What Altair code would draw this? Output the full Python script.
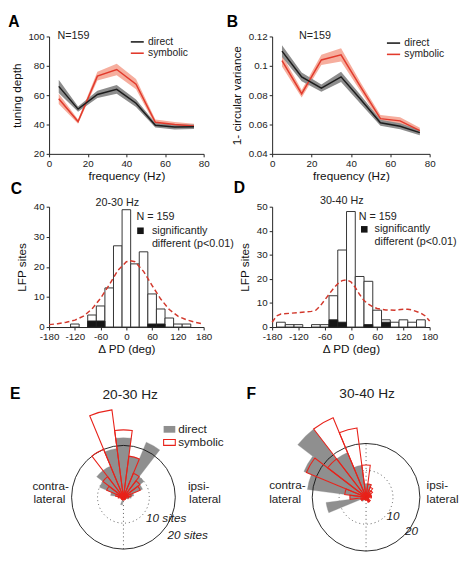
import altair as alt
import pandas as pd

FONT = "Liberation Sans"
INK = "#222222"
BLACK = "#1c1c1c"
RED = "#e23a2c"
GRAY_BAND = "#8d8d8d"
RED_BAND = "#f6ae9e"
GRAY_ROSE = "#8f8f8f"
HIST_RED = "#d2382c"

# ---------------- A / B : tuning vs frequency ----------------
freq = [5, 15, 25, 35, 45, 55, 65, 75]
td_direct = [66.0, 50.5, 60.5, 64.0, 54.5, 39.5, 38.3, 38.5]
td_direct_se = [4.5, 1.8, 2.5, 3.0, 2.5, 1.5, 1.7, 1.5]
td_symb = [57.5, 42.0, 73.0, 77.5, 67.5, 41.5, 40.0, 39.0]
td_symb_se = [3.5, 1.5, 3.0, 4.0, 3.5, 2.0, 1.8, 1.5]

cv_direct = [0.110, 0.0925, 0.0848, 0.0925, 0.0770, 0.0612, 0.0588, 0.0545]
cv_direct_se = [0.004, 0.003, 0.0025, 0.0035, 0.003, 0.002, 0.002, 0.0018]
cv_symb = [0.1035, 0.0810, 0.1040, 0.1075, 0.0855, 0.0640, 0.0625, 0.0558]
cv_symb_se = [0.004, 0.0025, 0.0035, 0.0045, 0.003, 0.0025, 0.0025, 0.002]

# ---------------- C / D : delta PD histograms ----------------
bins_C = [-120, -80, -60, -40, -20, 0, 20, 40, 60, 80, 100, 120, 140]
count_C = [1, 4, 7, 13, 27, 39, 21, 25, 11, 6, 3, 1, 1]
sig_C = [0, 2, 2, 0, 0, 0, 0, 0, 1, 1, 0, 0, 0]
curve_C_x = [-180, -160, -140, -120, -100, -80, -60, -40, -20, 0, 10, 20, 40, 60, 80, 100, 120, 140, 160, 180]
curve_C_y = [0.8, 1.1, 1.6, 2.3, 3.6, 6.0, 9.6, 14.0, 18.8, 21.7, 22.0, 21.7, 18.5, 13.8, 9.3, 5.8, 3.6, 2.4, 1.6, 1.0]

bins_D = [-160, -140, -120, -80, -60, -40, -20, 0, 20, 40, 60, 80, 100, 120, 140, 160]
count_D = [2, 1, 1, 1, 1, 13, 32, 48, 21, 19, 7, 3, 2, 3, 2, 3]
sig_D = [0, 0, 0, 0, 0, 3, 2, 0, 0, 1, 0, 2, 0, 0, 0, 0]
curve_D_x = [-180, -170, -160, -140, -120, -100, -90, -80, -70, -60, -50, -40, -30, -20, -10, 0, 10, 20, 30, 40, 50, 60, 80, 100, 120, 130, 140, 160, 170, 180]
curve_D_y = [2.0, 4.6, 5.4, 5.7, 6.0, 6.3, 6.5, 7.0, 8.8, 11.2, 13.6, 16.0, 18.0, 19.3, 19.6, 18.8, 16.5, 13.5, 11.0, 9.5, 8.4, 7.7, 7.1, 7.0, 7.4, 7.4, 7.1, 5.8, 4.6, 2.5]

# ---------------- E / F : rose plots (deg clockwise from top) ----------------
rose_angles = [-165, -150, -135, -120, -105, -90, -75, -60, -45, -30, -15, 0,
               15, 30, 45, 60, 75, 90, 105, 120, 135, 150, 165, 180]
E_direct = [3, 1, 0, 1, 0, 2, 5, 10, 13, 13, 19, 23, 16, 23, 10, 8, 4, 3, 2, 1, 0, 1, 0, 1]
E_symb = [1, 1, 1, 1, 1, 2, 3, 7, 10, 20, 34, 26, 16, 10, 8, 7, 3, 2, 1, 1, 1, 1, 1, 1]
F_direct = [1, 1, 2, 2, 15, 6, 22, 25, 32, 18, 12, 5, 5, 3, 2, 2, 2, 1, 0, 1, 0, 1, 0, 1]
F_symb = [1, 1, 1, 2, 2, 6, 8, 24, 18, 32, 26, 12, 5, 4, 3, 2, 2, 2, 1, 1, 2, 2, 1, 1]


def letter_title(letter, dx, dy):
    return alt.TitleParams(text=letter, anchor="start", frame="bounds", fontSize=16,
                           fontWeight="bold", font=FONT, color="#000000", offset=0,
                           dx=dx, dy=dy)


def line_panel(letter, direct, dse, symb, sse, ydom, yvals, yfmt, ytitle,
               leg_x0, leg_x1, leg_tx, leg_y, n_x, n_y, width, height, tdx, tdy):
    recs = []
    for cond, vals, ses in (("direct", direct, dse), ("symbolic", symb, sse)):
        for f, v, e in zip(freq, vals, ses):
            recs.append(dict(f=f, v=v, lo=v - e, hi=v + e, cond=cond))
    df = pd.DataFrame(recs)
    xs = alt.Scale(domain=[0, 80], nice=False, zero=False)
    ys = alt.Scale(domain=ydom, nice=False, zero=False)
    xax = alt.Axis(values=[0, 20, 40, 60, 80], title="frequency (Hz)", labelFlush=False)
    yax = alt.Axis(values=yvals, format=yfmt, title=ytitle)

    def X(f):
        return alt.X(f, type="quantitative", scale=xs, axis=xax)

    def Y(f):
        return alt.Y(f, type="quantitative", scale=ys, axis=yax)

    base = alt.Chart(df)
    band_s = base.transform_filter("datum.cond == 'symbolic'").mark_area(color=RED_BAND).encode(
        x=X("f"), y=Y("lo"), y2=alt.Y2("hi"))
    band_d = base.transform_filter("datum.cond == 'direct'").mark_area(color=GRAY_BAND).encode(
        x=X("f"), y=Y("lo"), y2=alt.Y2("hi"))
    line_s = base.transform_filter("datum.cond == 'symbolic'").mark_line(color=RED, strokeWidth=1.5).encode(
        x=X("f"), y=Y("v"))
    line_d = base.transform_filter("datum.cond == 'direct'").mark_line(color=BLACK, strokeWidth=1.5).encode(
        x=X("f"), y=Y("v"))

    leg = pd.DataFrame(dict(x0=[leg_x0] * 2, x1=[leg_x1] * 2, tx=[leg_tx] * 2, y=leg_y,
                            cond=["direct", "symbolic"]))
    leg_rule = alt.Chart(leg).mark_rule(strokeWidth=1.6).encode(
        x=X("x0"), x2=alt.X2("x1"), y=Y("y"),
        color=alt.Color("cond:N", scale=alt.Scale(domain=["direct", "symbolic"], range=[BLACK, RED]),
                        legend=None))
    leg_text = alt.Chart(leg).mark_text(align="left", baseline="middle", fontSize=10.5, color=INK).encode(
        x=X("tx"), y=Y("y"), text="cond:N")
    ntxt = alt.Chart(pd.DataFrame({"x": [n_x], "y": [n_y], "t": ["N=159"]})).mark_text(
        align="left", baseline="middle", fontSize=11, color=INK).encode(x=X("x"), y=Y("y"), text="t:N")
    return alt.layer(band_s, band_d, line_s, line_d, leg_rule, leg_text, ntxt).properties(
        width=width, height=height, title=letter_title(letter, tdx, tdy))


def hist_panel(letter, bins, counts, sig, cx, cy, ymax, label, lab_pos, n_pos, sq_pos, sig_pos,
               diff_pos, width, height, tdx, tdy):
    df = pd.DataFrame({"c": bins, "n": counts, "s": sig})
    df["x0"] = df["c"] - 10
    df["x1"] = df["c"] + 10
    df["z"] = 0
    xs = alt.Scale(domain=[-180, 180], nice=False, zero=False)
    ys = alt.Scale(domain=[0, ymax], nice=False)
    xax = alt.Axis(values=list(range(-180, 181, 60)), title="\u0394 PD (deg)",
                   labelExpr="datum.value + ''", labelOverlap=False, labelFlush=False)
    yax = alt.Axis(values=list(range(0, ymax + 1, 10)), title="LFP sites")

    def X(f):
        return alt.X(f, type="quantitative", scale=xs, axis=xax)

    def Y(f):
        return alt.Y(f, type="quantitative", scale=ys, axis=yax)

    bars = alt.Chart(df).mark_bar(fill="white", stroke="#333333", strokeWidth=1).encode(
        x=X("x0"), x2=alt.X2("x1"), y=Y("n"), y2=alt.Y2("z"))
    sigbars = alt.Chart(df[df["s"] > 0]).mark_bar(fill="#151515", stroke="#222222", strokeWidth=1).encode(
        x=X("x0"), x2=alt.X2("x1"), y=Y("s"), y2=alt.Y2("z"))
    curve = alt.Chart(pd.DataFrame({"x": cx, "y": cy})).mark_line(
        color=HIST_RED, strokeDash=[5, 3], strokeWidth=1.5).encode(x=X("x"), y=Y("y"))
    texts = pd.DataFrame({
        "x": [n_pos[0], sig_pos[0], diff_pos[0]],
        "y": [n_pos[1], sig_pos[1], diff_pos[1]],
        "t": ["N = 159", "significantly", "different (p<0.01)"]})
    ttxt = alt.Chart(texts).mark_text(align="left", baseline="middle", fontSize=11, color=INK).encode(
        x=X("x"), y=Y("y"), text="t:N")
    sq = alt.Chart(pd.DataFrame({"x": [sq_pos[0]], "y": [sq_pos[1]]})).mark_point(
        shape="square", filled=True, size=45, color="#151515", opacity=1).encode(x=X("x"), y=Y("y"))
    lab = alt.Chart(pd.DataFrame({"x": [lab_pos[0]], "y": [lab_pos[1]], "t": [label]})).mark_text(
        align="center", baseline="middle", fontSize=11, color=INK).encode(x=X("x"), y=Y("y"), text="t:N")
    return alt.layer(bars, sigbars, curve, ttxt, sq, lab).properties(
        width=width, height=height, title=letter_title(letter, tdx, tdy))


def rose_panel(letter, title, direct, symb, ppx, xdom, ydom, width, height,
               side_texts, scale_texts, title_pos, letter_pos, legend):
    xs = alt.Scale(domain=xdom, nice=False, zero=False)
    ys = alt.Scale(domain=ydom, nice=False, zero=False)
    ts = alt.Scale(domain=[0, 360], range=[0, 6.283185307179586])
    rs = alt.Scale(type="linear", domain=[0, 20], range=[0, 20 * ppx], zero=True)

    def X(f):
        return alt.X(f, type="quantitative", scale=xs, axis=None)

    def Y(f):
        return alt.Y(f, type="quantitative", scale=ys, axis=None)

    def T(f):
        return alt.Theta(f, type="quantitative", scale=ts, stack=False)

    def R(f):
        return alt.Radius(f, type="quantitative", scale=rs)

    def wedges(counts):
        w = pd.DataFrame({"a": rose_angles, "n": counts})
        w = w[w["n"] > 0].copy()
        w["t0"] = w["a"] - 7.5
        w["t1"] = w["a"] + 7.5
        w["cx"] = 0.0
        w["cy"] = 0.0
        return w

    rings = pd.DataFrame({"cx": [0.0, 0.0], "cy": [0.0, 0.0], "t0": [0, 0], "t1": [360, 360],
                          "r": [20, 10], "kind": ["outer", "inner"]})
    inner = alt.Chart(rings).transform_filter("datum.kind == 'inner'").mark_arc(
        fillOpacity=0, stroke="#555555", strokeWidth=1, strokeDash=[1, 3]).encode(
        x=X("cx"), y=Y("cy"), theta=T("t0"), theta2=alt.Theta2("t1"), radius=R("r"))
    outer = alt.Chart(rings).transform_filter("datum.kind == 'outer'").mark_arc(
        fillOpacity=0, stroke="#111111", strokeWidth=0.9).encode(
        x=X("cx"), y=Y("cy"), theta=T("t0"), theta2=alt.Theta2("t1"), radius=R("r"))
    spoke = alt.Chart(pd.DataFrame({"cx": [0.0], "y0": [-20.0], "y1": [20.0]})).mark_rule(
        stroke="#555555", strokeDash=[1, 3], strokeWidth=1).encode(x=X("cx"), y=Y("y0"), y2=alt.Y2("y1"))
    gray = alt.Chart(wedges(direct)).mark_arc(color=GRAY_ROSE, stroke=GRAY_ROSE, strokeWidth=0.3).encode(
        x=X("cx"), y=Y("cy"), theta=T("t0"), theta2=alt.Theta2("t1"), radius=R("n"))
    red = alt.Chart(wedges(symb)).mark_arc(fillOpacity=0, stroke="#e8221a", strokeWidth=1.1).encode(
        x=X("cx"), y=Y("cy"), theta=T("t0"), theta2=alt.Theta2("t1"), radius=R("n"))

    side = alt.Chart(pd.DataFrame(side_texts, columns=["x", "y", "t"])).mark_text(
        align="left", baseline="middle", fontSize=12, color=INK).encode(x=X("x"), y=Y("y"), text="t:N")
    scl = alt.Chart(pd.DataFrame(scale_texts, columns=["x", "y", "t"])).mark_text(
        align="left", baseline="middle", fontSize=12, fontStyle="italic", color=INK).encode(
        x=X("x"), y=Y("y"), text="t:N")
    ttl = alt.Chart(pd.DataFrame({"x": [title_pos[0]], "y": [title_pos[1]], "t": [title]})).mark_text(
        align="center", baseline="middle", fontSize=14, color=INK).encode(x=X("x"), y=Y("y"), text="t:N")
    let = alt.Chart(pd.DataFrame({"x": [letter_pos[0]], "y": [letter_pos[1]], "t": [letter]})).mark_text(
        align="left", baseline="middle", fontSize=16, fontWeight="bold", color="#000000").encode(
        x=X("x"), y=Y("y"), text="t:N")
    layers = [inner, spoke, gray, outer, red, side, scl, ttl, let]
    if legend is not None:
        lx0, lx1, gy0, gy1, ry0, ry1, tx, gty, rty = legend
        lg = pd.DataFrame({"x0": [lx0], "x1": [lx1], "y0": [gy0], "y1": [gy1]})
        lr = pd.DataFrame({"x0": [lx0], "x1": [lx1], "y0": [ry0], "y1": [ry1]})
        layers.append(alt.Chart(lg).mark_rect(color=GRAY_ROSE).encode(
            x=X("x0"), x2=alt.X2("x1"), y=Y("y0"), y2=alt.Y2("y1")))
        layers.append(alt.Chart(lr).mark_rect(fill="white", stroke="#e8221a", strokeWidth=1.1).encode(
            x=X("x0"), x2=alt.X2("x1"), y=Y("y0"), y2=alt.Y2("y1")))
        layers.append(alt.Chart(pd.DataFrame({"x": [tx, tx], "y": [gty, rty], "t": ["direct", "symbolic"]})).mark_text(
            align="left", baseline="middle", fontSize=12, color=INK).encode(x=X("x"), y=Y("y"), text="t:N"))
    return alt.layer(*layers).properties(width=width, height=height)


W0 = 158
W1 = 161
H0 = 120
H1 = 123
H2 = 168
CY = 120   # distance (px) from top of rose panel to the rose centre

A = line_panel("A", td_direct, td_direct_se, td_symb, td_symb_se, [20, 100], [20, 40, 60, 80, 100], "d",
               "tuning depth", 42.3, 49.0, 51.2, [96.3, 88.6], 4.3, 100.6, W0, H0, -2, 0)
B = line_panel("B", cv_direct, cv_direct_se, cv_symb, cv_symb_se, [0.04, 0.12],
               [0.04, 0.06, 0.08, 0.10, 0.12], ".2~f", "1- circular variance",
               58.3, 65.0, 67.1, [0.1155, 0.1078], 13.6, 0.1206, W1, H0, -4, 0)
C = hist_panel("C", bins_C, count_C, sig_C, curve_C_x, curve_C_y, 40, "20-30 Hz", (-21, 41.3),
               (23.6, 36.4), (32.8, 32.0), (59.4, 32.0), (59.4, 27.6), W0, H1, -5, 0)
D = hist_panel("D", bins_D, count_D, sig_D, curve_D_x, curve_D_y, 50, "30-40 Hz", (-21, 52.2),
               (18.2, 45.9), (30.6, 40.6), (54.2, 40.6), (54.2, 35.3), W1, H1, -5, 0)

ppxE = 2.65
E = rose_panel("E", "20-30 Hz", E_direct, E_symb, ppxE,
               [(48 - 124) / ppxE, (48 + W0 - 124) / ppxE], [-(H2 - CY) / ppxE, CY / ppxE], W0, H2,
               [(-35.1, 4.5, "contra-"), (-34.7, -0.75, "lateral"), (24.9, 4.5, "ipsi-"), (25.3, -0.75, "lateral")],
               [(8.7, -7.9, "10 sites"), (17.0, -14.7, "20 sites")],
               (2.6, 39.6), (-43.8, 39.6),
               (15.5, 20.0, 24.9, 27.5, 20.0, 22.3, 21.1, 26.2, 21.1))
ppxF = 2.75
F = rose_panel("F", "30-40 Hz", F_direct, F_symb, ppxF,
               [(276 - 372) / ppxF, (276 + W1 - 372) / ppxF], [-(H2 - CY) / ppxF, CY / ppxF], W1, H2,
               [(-36.0, 4.4, "contra-"), (-36.0, -0.7, "lateral"), (22.5, 4.4, "ipsi-"), (22.5, -0.7, "lateral")],
               [(7.6, -6.9, "10"), (14.5, -12.7, "20")],
               (0.4, 38.5), (-44.4, 38.5), None)

chart = alt.concat(A, B, C, D, E, F, columns=2, spacing={"row": 54, "column": 70},
                   bounds="flush").properties(padding=0).configure_view(stroke=None).configure_axis(
    labelFont=FONT, titleFont=FONT, labelFontSize=10, titleFontSize=12, titleFontWeight="normal",
    labelColor=INK, titleColor="#111111", domainColor="#222222", tickColor="#222222", tickSize=3,
    grid=False, labelPadding=2).configure_axisX(titlePadding=2).configure_axisY(titlePadding=5).configure_text(
    font=FONT).configure_title(font=FONT)

chart.save("out.html", embed_options={"renderer": "svg", "actions": False})
